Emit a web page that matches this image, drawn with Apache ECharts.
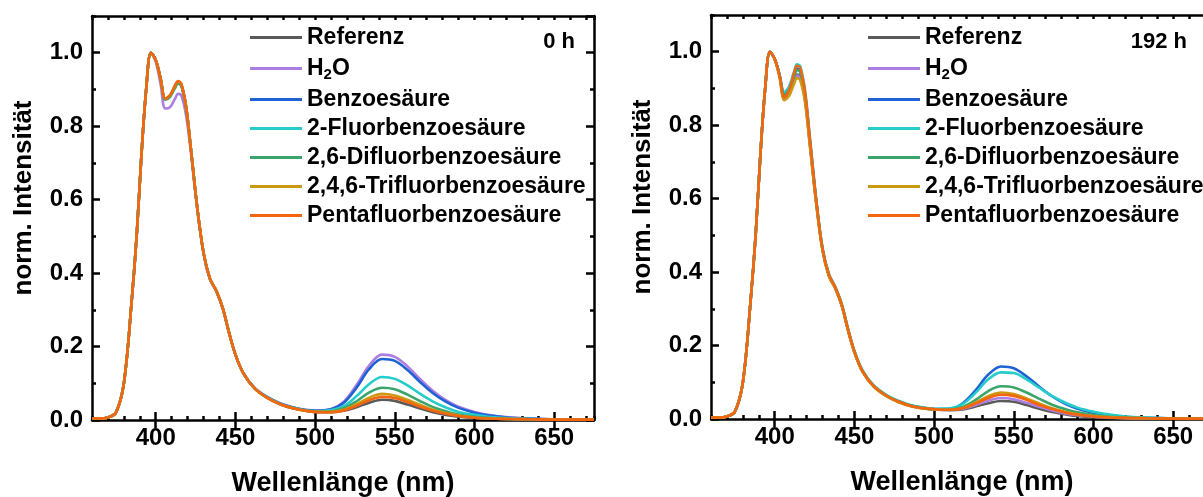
<!DOCTYPE html>
<html>
<head>
<meta charset="utf-8">
<script src="https://cdn.jsdelivr.net/npm/echarts@6/dist/echarts.min.js"></script>
<style>
  html, body { margin: 0; padding: 0; background: #fff; }
  #chart { width: 1203px; height: 497px; }
</style>
</head>
<body>
<div id="chart"></div>
<script>
// Wellenlänge (nm)
const wl = [360, 365, 370, 375, 380, 385, 388, 391, 394, 397, 400, 403, 406, 409, 412, 414, 416, 419, 422, 426,
            430, 434, 438, 442, 446, 450, 455, 462, 470, 478, 486, 494, 502, 510, 518, 526, 534, 542, 550, 558,
            566, 574, 582, 590, 600, 610, 620, 635, 650, 675];

const names = ['Referenz', 'H2O', 'Benzoesäure', '2-Fluorbenzoesäure', '2,6-Difluorbenzoesäure',
               '2,4,6-Trifluorbenzoesäure', 'Pentafluorbenzoesäure'];
const colors = ['#5a5a5a', '#ac7ee2', '#1f62d6', '#25cccc', '#3aa56b', '#c99a12', '#f4650f'];

// 0 h
const ref0 = [0.004,0.004,0.007,0.02,0.1,0.33,0.5,0.72,0.9,1.0,0.98,0.93,0.874,0.883,0.908,0.92,0.913,0.853,0.74,0.58,
              0.455,0.385,0.352,0.305,0.238,0.178,0.127,0.086,0.06,0.043,0.032,0.025,0.021,0.021,0.025,0.035,0.047,0.055,0.052,0.042,
              0.031,0.021,0.014,0.009,0.006,0.004,0.003,0.002,0.001,0.001];
const h2o0 = [0.004,0.004,0.007,0.02,0.1,0.33,0.5,0.72,0.9,1.0,0.975,0.915,0.848,0.852,0.874,0.888,0.884,0.83,0.73,0.575,
              0.452,0.382,0.35,0.303,0.236,0.178,0.128,0.088,0.063,0.046,0.035,0.028,0.026,0.03,0.05,0.095,0.149,0.178,0.172,0.146,
              0.111,0.079,0.054,0.036,0.022,0.013,0.008,0.004,0.002,0.001];
const benz0 = [0.004,0.004,0.007,0.02,0.1,0.33,0.5,0.72,0.9,1.0,0.98,0.93,0.874,0.883,0.908,0.921,0.914,0.854,0.74,0.58,
               0.455,0.385,0.352,0.305,0.238,0.178,0.127,0.087,0.062,0.045,0.034,0.027,0.025,0.029,0.047,0.088,0.139,0.166,0.161,0.136,
               0.103,0.073,0.05,0.033,0.02,0.012,0.007,0.004,0.002,0.001];
const fluor0 = [0.004,0.004,0.007,0.02,0.1,0.33,0.5,0.72,0.9,1.0,0.98,0.93,0.874,0.883,0.908,0.921,0.914,0.854,0.74,0.58,
                0.455,0.385,0.352,0.305,0.238,0.178,0.127,0.087,0.062,0.044,0.033,0.026,0.024,0.027,0.038,0.065,0.098,0.117,0.112,0.094,
                0.071,0.05,0.034,0.022,0.014,0.008,0.005,0.003,0.001,0.001];
const difluor0 = [0.004,0.004,0.007,0.02,0.1,0.33,0.5,0.72,0.9,1.0,0.98,0.93,0.872,0.88,0.903,0.916,0.909,0.85,0.74,0.58,
                  0.455,0.385,0.352,0.305,0.238,0.178,0.127,0.086,0.061,0.044,0.033,0.026,0.023,0.024,0.032,0.051,0.075,0.088,0.084,0.069,
                  0.051,0.035,0.024,0.015,0.009,0.005,0.003,0.002,0.001,0.001];
const trifluor0 = [0.004,0.004,0.007,0.02,0.1,0.33,0.5,0.72,0.9,1.0,0.98,0.93,0.875,0.884,0.909,0.922,0.915,0.855,0.74,0.58,
                   0.455,0.385,0.352,0.305,0.238,0.178,0.127,0.086,0.06,0.043,0.032,0.025,0.022,0.022,0.028,0.043,0.061,0.071,0.067,0.055,
                   0.041,0.028,0.019,0.012,0.007,0.004,0.003,0.002,0.001,0.001];
const penta0 = [0.004,0.004,0.007,0.02,0.1,0.33,0.5,0.72,0.9,1.0,0.98,0.93,0.875,0.885,0.91,0.923,0.916,0.855,0.74,0.58,
                0.455,0.385,0.352,0.305,0.238,0.178,0.127,0.086,0.06,0.043,0.032,0.025,0.021,0.021,0.026,0.039,0.054,0.063,0.06,0.049,
                0.036,0.025,0.017,0.011,0.006,0.004,0.003,0.002,0.001,0.001];

// 192 h
const ref192 = [0.004,0.004,0.007,0.02,0.1,0.33,0.5,0.72,0.9,1.0,0.98,0.935,0.873,0.888,0.92,0.938,0.932,0.87,0.75,0.59,
                0.46,0.39,0.356,0.31,0.242,0.182,0.13,0.089,0.063,0.046,0.035,0.029,0.025,0.024,0.026,0.034,0.043,0.049,0.047,0.038,
                0.028,0.019,0.013,0.008,0.005,0.003,0.002,0.001,0.001,0.001];
const h2o192 = [0.004,0.004,0.007,0.02,0.1,0.33,0.5,0.72,0.9,1.0,0.98,0.935,0.875,0.888,0.918,0.935,0.929,0.868,0.75,0.59,
                0.46,0.39,0.356,0.31,0.242,0.182,0.13,0.089,0.063,0.046,0.035,0.029,0.026,0.025,0.028,0.038,0.05,0.057,0.054,0.044,
                0.033,0.023,0.015,0.01,0.006,0.004,0.002,0.001,0.001,0.001];
const benz192 = [0.004,0.004,0.007,0.02,0.1,0.33,0.5,0.72,0.9,1.0,0.98,0.937,0.886,0.9,0.935,0.954,0.948,0.885,0.76,0.595,
                 0.462,0.392,0.357,0.311,0.243,0.183,0.131,0.09,0.064,0.047,0.036,0.03,0.027,0.028,0.043,0.078,0.121,0.143,0.138,0.116,
                 0.088,0.062,0.042,0.028,0.017,0.01,0.006,0.003,0.002,0.001];
const fluor192 = [0.004,0.004,0.007,0.02,0.1,0.33,0.5,0.72,0.9,1.0,0.98,0.938,0.89,0.905,0.944,0.966,0.96,0.895,0.77,0.6,
                  0.466,0.396,0.36,0.314,0.246,0.186,0.133,0.092,0.066,0.049,0.037,0.031,0.028,0.029,0.041,0.071,0.108,0.127,0.125,0.108,
                  0.085,0.063,0.045,0.031,0.02,0.012,0.007,0.004,0.002,0.001];
const difluor192 = [0.004,0.004,0.007,0.02,0.1,0.33,0.5,0.72,0.9,1.0,0.98,0.936,0.882,0.897,0.931,0.95,0.944,0.882,0.76,0.595,
                    0.462,0.392,0.357,0.311,0.243,0.183,0.131,0.09,0.064,0.047,0.036,0.029,0.026,0.026,0.033,0.052,0.076,0.089,0.086,0.072,
                    0.055,0.039,0.027,0.018,0.011,0.006,0.004,0.002,0.001,0.001];
const trifluor192 = [0.004,0.004,0.007,0.02,0.1,0.33,0.5,0.72,0.9,1.0,0.978,0.93,0.868,0.88,0.911,0.928,0.922,0.862,0.745,0.585,
                     0.458,0.388,0.355,0.308,0.24,0.18,0.129,0.088,0.062,0.045,0.034,0.028,0.026,0.025,0.03,0.045,0.062,0.072,0.068,0.056,
                     0.042,0.029,0.02,0.013,0.008,0.005,0.003,0.002,0.001,0.001];
const penta192 = [0.004,0.004,0.007,0.02,0.1,0.33,0.5,0.72,0.9,1.0,0.98,0.935,0.876,0.895,0.94,0.962,0.956,0.89,0.765,0.597,
                  0.463,0.393,0.358,0.312,0.244,0.184,0.131,0.09,0.064,0.047,0.035,0.029,0.026,0.025,0.029,0.042,0.057,0.066,0.063,0.052,
                  0.038,0.027,0.018,0.012,0.007,0.004,0.003,0.002,0.001,0.001];

const panel0 = [ref0, h2o0, benz0, fluor0, difluor0, trifluor0, penta0];
const panel192 = [ref192, h2o192, benz192, fluor192, difluor192, trifluor192, penta192];

// Achsen-Ticks
const xMajor = [400, 450, 500, 550, 600, 650];
// Raster (alle 5 nm) nur für die großen Ticks der x-Achse
const xGrid = [];
for(let v = 360; v <= 675; v += 5) xGrid.push(String(v));

const FONT = 'Liberation Sans';
let chart = echarts.init(document.getElementById('chart'));

const tickStyle = {color: '#000', width: 2.5};
const axLine = {show: true, onZero: false, lineStyle: {color: '#000', width: 2.5}};

function majorTicks(idx, val){
    return xMajor.indexOf(Number(val)) >= 0;
}

function xAxes(gi){
    let base = {gridIndex: gi, type: 'value', min: 360, max: 675, splitLine: {show: false}};
    let cat = {gridIndex: gi, type: 'category', data: xGrid, boundaryGap: false, splitLine: {show: false}};
    return [
        // Hauptachse unten: Beschriftung + kleine Ticks alle 10 nm
        Object.assign({}, base, {
            position: 'bottom', interval: 10, axisLine: axLine,
            axisTick: {show: true, inside: true, length: 4, lineStyle: tickStyle},
            axisLabel: {show: true, customValues: xMajor, margin: 6, color: '#000', fontFamily: FONT, fontWeight: 'bold', fontSize: 24},
            name: 'Wellenlänge (nm)', nameLocation: 'middle', nameGap: 50,
            nameTextStyle: {color: '#000', fontFamily: FONT, fontWeight: 'bold', fontSize: 27}
        }),
        // große Ticks unten
        Object.assign({}, cat, {
            position: 'bottom', axisLine: {show: false},
            axisTick: {show: true, inside: true, length: 8, interval: majorTicks, lineStyle: tickStyle},
            axisLabel: {show: false}
        }),
        Object.assign({}, base, {
            position: 'top', interval: 10, axisLine: axLine,
            axisTick: {show: true, inside: true, length: 4, lineStyle: tickStyle},
            axisLabel: {show: false}
        }),
        Object.assign({}, cat, {
            position: 'top', axisLine: {show: false},
            axisTick: {show: true, inside: true, length: 8, interval: majorTicks, lineStyle: tickStyle},
            axisLabel: {show: false}
        })
    ];
}

function yAxes(gi){
    let base = {gridIndex: gi, type: 'value', min: 0, max: 1.1, splitLine: {show: false}};
    return [
        Object.assign({}, base, {
            position: 'left', interval: 0.2, axisLine: axLine,
            axisTick: {show: true, inside: true, length: 8, lineStyle: tickStyle},
            axisLabel: {show: true, showMaxLabel: false, margin: 9, color: '#000', fontFamily: FONT, fontWeight: 'bold', fontSize: 24,
                        formatter: v => v.toFixed(1)},
            name: 'norm. Intensität', nameLocation: 'middle', nameGap: 55,
            nameTextStyle: {color: '#000', fontFamily: FONT, fontWeight: 'bold', fontSize: 26, padding: [0, 0, 0, 40]}
        }),
        Object.assign({}, base, {
            position: 'left', interval: 0.1, axisLine: {show: false},
            axisTick: {show: true, inside: true, length: 4, lineStyle: tickStyle},
            axisLabel: {show: false}
        }),
        Object.assign({}, base, {
            position: 'right', interval: 0.2, axisLine: axLine,
            axisTick: {show: true, inside: true, length: 8, lineStyle: tickStyle},
            axisLabel: {show: false}
        }),
        Object.assign({}, base, {
            position: 'right', interval: 0.1, axisLine: {show: false},
            axisTick: {show: true, inside: true, length: 4, lineStyle: tickStyle},
            axisLabel: {show: false}
        })
    ];
}

function makeSeries(panel, gi){
    let out = [];
    for(let i in panel){
        out.push({
            name: names[i],
            type: 'line',
            xAxisIndex: gi * 4,
            yAxisIndex: gi * 4,
            smooth: 0.35,
            symbol: 'none',
            color: colors[i],
            lineStyle: {width: 2.6, color: colors[i]},
            data: wl.map((x, k) => [x, panel[i][k]])
        });
    }
    return out;
}

function legendFor(left){
    return {
        orient: 'vertical', left: left, top: 26, padding: 0,
        icon: 'rect', itemWidth: 52, itemHeight: 3, itemGap: 6,
        data: names,
        formatter: function(name){
            if(name === 'H2O') return '{t|H}{s|2}{t|O}';
            return '{t|' + name + '}';
        },
        textStyle: {
            color: '#000',
            rich: {
                t: {fontFamily: FONT, fontWeight: 'bold', fontSize: 23, color: '#000', lineHeight: 22},
                s: {fontFamily: FONT, fontWeight: 'bold', fontSize: 15, color: '#000', padding: [12, 0, 0, 0], lineHeight: 22}
            }
        }
    };
}

let option = {
    animation: false,
    backgroundColor: '#fff',
    grid: [
        {left: 92, top: 16, width: 502, height: 404, outerBoundsMode: 'none'},
        {left: 711, top: 15, width: 502, height: 404, outerBoundsMode: 'none'}
    ],
    xAxis: xAxes(0).concat(xAxes(1)),
    yAxis: yAxes(0).concat(yAxes(1)),
    legend: [legendFor(250), legendFor(868)],
    graphic: [
        {type: 'text', right: 1203 - 575, top: 31, style: {text: '0 h', fill: '#000', font: 'bold 22px "Liberation Sans"'}},
        {type: 'text', right: 1203 - 1187, top: 31, style: {text: '192 h', fill: '#000', font: 'bold 22px "Liberation Sans"'}}
    ],
    series: makeSeries(panel0, 0).concat(makeSeries(panel192, 1))
};
chart.setOption(option);
</script>
</body>
</html>
